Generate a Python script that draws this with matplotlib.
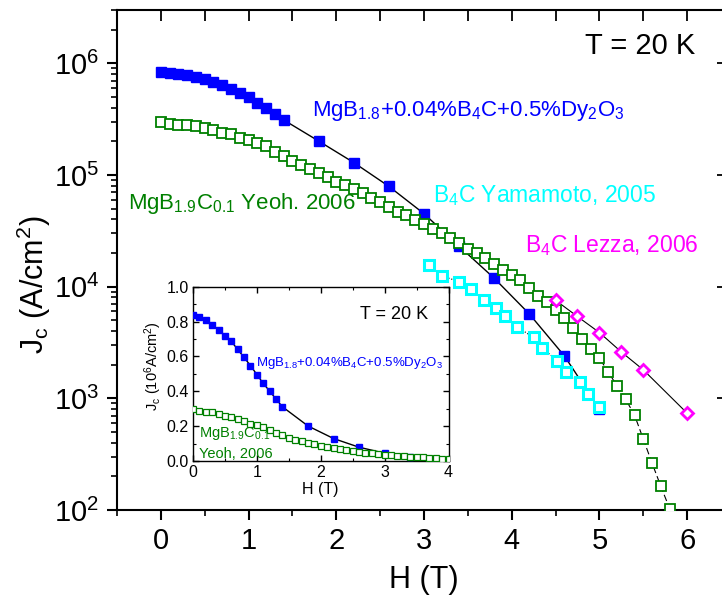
import matplotlib
matplotlib.use("Agg")
import matplotlib.pyplot as plt
from matplotlib.ticker import MultipleLocator, LogLocator, NullFormatter, NullLocator, FixedLocator

plt.rcParams['font.family'] = ['Liberation Sans', 'DejaVu Sans']
plt.rcParams['mathtext.fontset'] = 'custom'
plt.rcParams['mathtext.rm'] = 'Liberation Sans'
plt.rcParams['mathtext.it'] = 'Liberation Sans'
plt.rcParams['mathtext.bf'] = 'Liberation Sans:bold'

# ---------------- data ----------------
blue_H = [0.0, 0.1, 0.2, 0.3, 0.4, 0.5, 0.6, 0.7, 0.8, 0.9, 1.0, 1.1, 1.2, 1.3, 1.4,
          1.8, 2.2, 2.6, 3.0, 3.4, 3.8, 4.2, 4.6, 5.0]
blue_Jc = [8.36e5, 8.26e5, 8.09e5, 7.81e5, 7.54e5, 7.19e5, 6.86e5, 6.40e5, 5.94e5,
           5.47e5, 4.96e5, 4.45e5, 4.01e5, 3.55e5, 3.11e5,
           2.01e5, 1.29e5, 7.9e4, 4.5e4, 2.3e4, 1.19e4, 5.7e3, 2.4e3, 8.0e2]

green_H = [0.0, 0.1, 0.2, 0.3, 0.4, 0.5, 0.6, 0.7, 0.8, 0.9,
           1.0, 1.1, 1.2, 1.3, 1.4, 1.5, 1.6, 1.7, 1.8, 1.9,
           2.0, 2.1, 2.2, 2.3, 2.4, 2.5, 2.6, 2.7, 2.8, 2.9,
           3.0, 3.1, 3.2, 3.3, 3.4, 3.5, 3.6, 3.7, 3.8, 3.9,
           4.0, 4.1, 4.2, 4.3, 4.4, 4.5, 4.6, 4.7, 4.8, 4.9,
           5.0, 5.1, 5.2, 5.3, 5.4, 5.5, 5.6, 5.7, 5.8]
green_Jc = [2.99e5, 2.85e5, 2.83e5, 2.82e5, 2.72e5, 2.61e5, 2.52e5, 2.40e5, 2.32e5, 2.15e5,
            2.05e5, 1.93e5, 1.80e5, 1.62e5, 1.48e5, 1.33e5, 1.23e5, 1.13e5, 1.04e5, 9.5e4,
            8.7e4, 8.1e4, 7.45e4, 6.86e4, 6.2e4, 5.7e4, 5.16e4, 4.69e4, 4.35e4, 3.95e4,
            3.61e4, 3.26e4, 3.04e4, 2.74e4, 2.48e4, 2.19e4, 2.01e4, 1.82e4, 1.6e4, 1.41e4,
            1.26e4, 1.14e4, 9.7e3, 8.2e3, 7.3e3, 6.2e3, 5.2e3, 4.25e3, 3.42e3, 2.78e3,
            2.28e3, 1.73e3, 1.29e3, 977, 708, 432, 263, 163, 103]

cyan_H = [3.06, 3.2, 3.4, 3.54, 3.68, 3.82, 3.92, 4.06, 4.25, 4.35, 4.52, 4.62, 4.78, 4.87, 5.0]
cyan_Jc = [1.56e4, 1.25e4, 1.11e4, 9.5e3, 7.56e3, 6.4e3, 5.47e3, 4.36e3, 3.51e3, 2.81e3,
           2.17e3, 1.73e3, 1.39e3, 1.09e3, 828]

mag_H = [4.5, 4.74, 5.0, 5.25, 5.5, 6.0]
mag_Jc = [7.55e3, 5.47e3, 3.88e3, 2.6e3, 1.8e3, 736]

x_ticks = [0, 1, 2, 3, 4, 5, 6]
inset_xticks = [0, 1, 2, 3, 4]
inset_yticks = [0.0, 0.2, 0.4, 0.6, 0.8, 1.0]

BLUE = '#0000ff'
GREEN = '#008000'
CYAN = '#00ffff'
MAG = '#ff00ff'

# ---------------- figure ----------------
fig = plt.figure(figsize=(7.22, 6.02), dpi=100)
W, H = 722, 602
ax = fig.add_axes([117 / W, 1 - 510 / H, (731 - 117) / W, 500 / H])
ax.set_yscale('log')
ax.set_xlim(-0.5, 6.5)
ax.set_ylim(1e2, 3e6)

ax.plot(blue_H, blue_Jc, '-', color='black', lw=1.0, zorder=2)
ax.plot(blue_H, blue_Jc, 's', color=BLUE, mec=BLUE, ms=6.5, lw=0, zorder=3)
ax.plot(cyan_H, cyan_Jc, ':', color='black', lw=0.8, zorder=2)
ax.plot(cyan_H, cyan_Jc, 's', mfc='white', mec=CYAN, mew=2.2, ms=7.5, lw=0, zorder=4)
ax.plot(green_H, green_Jc, '--', color='black', lw=0.8, dashes=(6, 3), zorder=2)
ax.plot(green_H, green_Jc, 's', mfc='white', mec=GREEN, mew=1.3, ms=6.5, lw=0, zorder=5)
ax.plot(mag_H, mag_Jc, '-', color='black', lw=0.8, zorder=2)
ax.plot(mag_H, mag_Jc, 'D', mfc='white', mec=MAG, mew=2.0, ms=6.5, lw=0, zorder=6)

for s in ax.spines.values():
    s.set_linewidth(1.5)

ax.xaxis.set_major_locator(FixedLocator(x_ticks))
ax.xaxis.set_minor_locator(MultipleLocator(0.5))
ax.yaxis.set_major_locator(LogLocator(base=10, numticks=10))
ax.yaxis.set_minor_locator(LogLocator(base=10, subs=range(2, 10), numticks=20))
ax.yaxis.set_minor_formatter(NullFormatter())
ax.tick_params(axis='both', which='major', direction='out', length=7, width=1.5,
               labelsize=21, pad=8)
ax.tick_params(axis='both', which='minor', direction='out', length=4, width=1.2)
ax.tick_params(axis='x', which='major', pad=5)
ax.tick_params(axis='y', which='major', pad=6)

ax.set_xlabel('H (T)', fontsize=22)
ax.xaxis.set_label_coords(0.5, -0.11)
ax.set_ylabel(r'J$\mathregular{_c}$ (A/cm$\mathregular{^2}$)', fontsize=22)
ax.yaxis.set_label_coords(-0.105, 0.45)

# top ticks (inward, every 0.5)
axt = ax.twiny()
axt.set_xlim(ax.get_xlim())
axt.xaxis.set_major_locator(MultipleLocator(0.5))
axt.xaxis.set_minor_locator(NullLocator())
axt.tick_params(axis='x', which='major', direction='in', length=8, width=1.3,
                labeltop=False, top=True)
# right ticks (inward, decades)
axr = ax.twinx()
axr.set_yscale('log')
axr.set_ylim(ax.get_ylim())
axr.yaxis.set_major_locator(LogLocator(base=10, numticks=10))
axr.yaxis.set_minor_locator(NullLocator())
axr.tick_params(axis='y', which='major', direction='in', length=10, width=1.3,
                labelright=False, right=True)
for a in (axt, axr):
    for s in a.spines.values():
        s.set_visible(False)

# annotations main
ax.text(4.84, 1.2e6, 'T = 20 K', fontsize=21, color='black', ha='left', va='baseline')
ax.text(1.72, 3.35e5, r'MgB$\mathregular{_{1.8}}$+0.04%B$\mathregular{_4}$C+0.5%Dy$\mathregular{_2}$O$\mathregular{_3}$',
        fontsize=16, color=BLUE, ha='left', va='baseline')
ax.text(-0.376, 4.93e4, r'MgB$\mathregular{_{1.9}}$C$\mathregular{_{0.1}}$ Yeoh. 2006',
        fontsize=16, color=GREEN, ha='left', va='baseline')
ax.text(3.10, 5.7e4, r'B$\mathregular{_4}$C Yamamoto, 2005',
        fontsize=16.5, color=CYAN, ha='left', va='baseline')
ax.text(4.15, 2.03e4, r'B$\mathregular{_4}$C Lezza, 2006',
        fontsize=16.5, color=MAG, ha='left', va='baseline')

# ---------------- inset ----------------
ins = fig.add_axes([193 / W, 1 - 461 / H, (448.5 - 193) / W, (461 - 286.7) / H], zorder=10)
ins.set_xlim(0, 4)
ins.set_ylim(0, 1.0)
blue_in = [v / 1e6 for v in blue_Jc]
green_in = [v / 1e6 for v in green_Jc]
ins.plot(blue_H, blue_in, '-', color='black', lw=1.0, zorder=2)
ins.plot(blue_H, blue_in, 's', color=BLUE, mec=BLUE, ms=5, lw=0, zorder=3)
ins.plot(green_H, green_in, '--', color='black', lw=0.6, dashes=(3, 2), zorder=2)
ins.plot(green_H, green_in, 's', mfc='white', mec=GREEN, mew=0.9, ms=4, lw=0, zorder=4)
ins.xaxis.set_major_locator(FixedLocator(inset_xticks))
ins.xaxis.set_minor_locator(MultipleLocator(0.5))
ins.yaxis.set_major_locator(FixedLocator(inset_yticks))
ins.yaxis.set_minor_locator(MultipleLocator(0.1))
ins.yaxis.set_major_formatter(matplotlib.ticker.FormatStrFormatter('%.1f'))
ins.tick_params(axis='both', which='both', direction='in', top=True, right=True,
                labelsize=11.5, pad=3)
ins.tick_params(axis='both', which='major', length=4, width=1)
ins.tick_params(axis='both', which='minor', length=2, width=0.8)
for s in ins.spines.values():
    s.set_linewidth(1.0)
ins.set_xlabel('H (T)', fontsize=11.5, labelpad=1)
ins.set_ylabel(r'J$\mathregular{_c}$ (10$\mathregular{^6}$A/cm$\mathregular{^2}$)', fontsize=10.5)
ins.yaxis.set_label_coords(-0.115, 0.545)

ins.text(2.61, 0.815, 'T = 20 K', fontsize=13, color='black', ha='left', va='baseline')
ins.text(0.99, 0.545, r'MgB$\mathregular{_{1.8}}$+0.04%B$\mathregular{_4}$C+0.5%Dy$\mathregular{_2}$O$\mathregular{_3}$',
         fontsize=9.5, color=BLUE, ha='left', va='baseline')
ins.text(0.09, 0.138, r'MgB$\mathregular{_{1.9}}$C$\mathregular{_{0.1}}$',
         fontsize=10.5, color=GREEN, ha='left', va='baseline')
ins.text(0.09, 0.017, 'Yeoh, 2006', fontsize=10.5, color=GREEN, ha='left', va='baseline')

fig.savefig('out.png', dpi=100)
